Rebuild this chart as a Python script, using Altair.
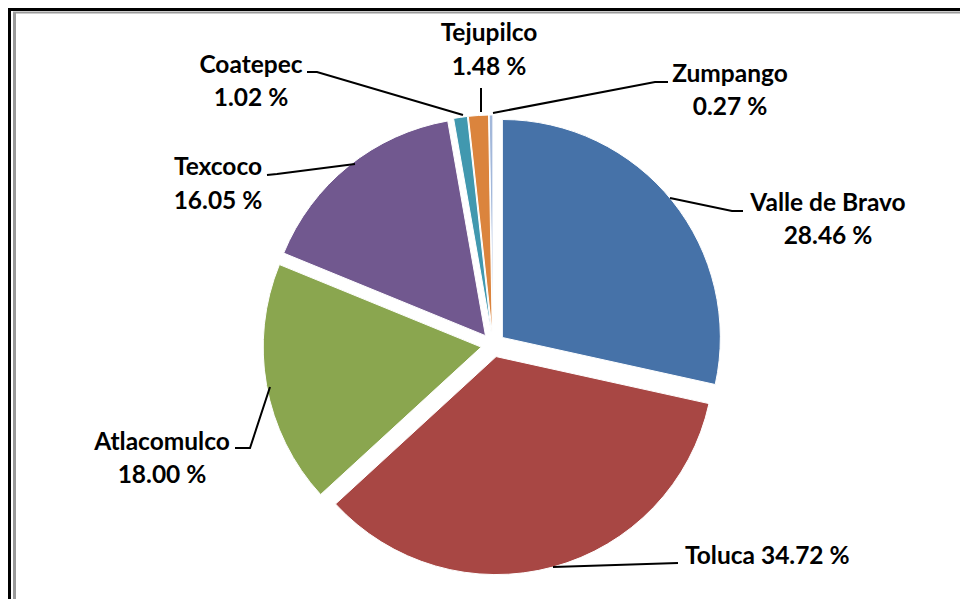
import altair as alt
import pandas as pd

# ---- data ----
municipios = ["Valle de Bravo", "Toluca", "Atlacomulco", "Texcoco", "Coatepec", "Tejupilco", "Zumpango"]
porcentajes = [28.46, 34.72, 18.00, 16.05, 1.02, 1.48, 0.27]
colores = ["#4672A8", "#A84744", "#8AA64F", "#71588F", "#4198AF", "#DB843D", "#A3B8DA"]
titulo = "(Hectáreas)"

# ---- layout (chart pixel coordinates) ----
W, H = 952, 591
CX, CY, R, EXPLODE = 485, 337, 218, 12
FONT = "Lato"
FS = 24.5

# label positions: (x, y_name, y_pct); Toluca uses one line
label_pos = {
    "Valle de Bravo": (820, 196, 229),
    "Toluca": (677, 549, None),
    "Atlacomulco": (154, 435, 468),
    "Texcoco": (210, 160, 194),
    "Coatepec": (243, 58, 91),
    "Tejupilco": (481, 26, 60),
    "Zumpango": (722, 67, 100),
}
# leader lines
leaders = {
    "Valle de Bravo": [(662, 190), (724, 203), (735, 203)],
    "Toluca": [(545, 559), (670, 555)],
    "Atlacomulco": [(262, 379), (242, 440), (227, 440)],
    "Texcoco": [(347, 156), (269, 166), (259, 167)],
    "Coatepec": [(455, 107), (309, 64), (299, 64)],
    "Tejupilco": [(473, 104), (473, 80)],
    "Zumpango": [(485, 105), (647, 74), (660, 74)],
}

df = pd.DataFrame({"municipio": municipios, "pct": porcentajes, "idx": list(range(len(municipios)))})

pie = (
    alt.Chart(df)
    .transform_window(cum="sum(pct)", sort=[alt.SortField("idx")], frame=[None, 0])
    .transform_joinaggregate(total="sum(pct)")
    .transform_calculate(
        t0="2*PI*(datum.cum-datum.pct)/datum.total",
        t1="2*PI*datum.cum/datum.total",
    )
    .transform_calculate(mid="(datum.t0+datum.t1)/2")
    .transform_calculate(
        cx=f"{CX}+{EXPLODE}*sin(datum.mid)",
        cy=f"{CY}-{EXPLODE}*cos(datum.mid)",
    )
    .mark_arc(radius=R, stroke="white", strokeWidth=1)
    .encode(
        theta=alt.Theta("t0:Q", scale=None),
        theta2="t1:Q",
        x=alt.X("cx:Q", scale=None),
        y=alt.Y("cy:Q", scale=None),
        color=alt.Color("municipio:N", scale=alt.Scale(domain=municipios, range=colores), legend=None),
    )
)

rows = []
for m, p in zip(municipios, porcentajes):
    x, y1, y2 = label_pos[m]
    if y2 is None:
        rows.append({"t": f"{m} {p:.2f} %", "x": x, "y": y1, "a": "left"})
    else:
        rows.append({"t": m, "x": x, "y": y1, "a": "center"})
        rows.append({"t": f"{p:.2f} %", "x": x, "y": y2, "a": "center"})
lab = pd.DataFrame(rows)

def text_layer(align):
    return (
        alt.Chart(lab[lab["a"] == align])
        .mark_text(font=FONT, fontSize=FS, fontWeight="bold", color="black", align=align, baseline="middle")
        .encode(x=alt.X("x:Q", scale=None), y=alt.Y("y:Q", scale=None), text="t:N")
    )

lrows = []
for m, pts in leaders.items():
    for k, (x, y) in enumerate(pts):
        lrows.append({"municipio": m, "k": k, "x": x, "y": y})
ldf = pd.DataFrame(lrows)
lines = (
    alt.Chart(ldf)
    .mark_line(color="black", strokeWidth=2)
    .encode(x=alt.X("x:Q", scale=None), y=alt.Y("y:Q", scale=None), detail="municipio:N", order="k:Q")
)

title = (
    alt.Chart(pd.DataFrame({"t": [titulo]}))
    .mark_text(font="Liberation Sans", fontSize=20, color="black", align="center", baseline="bottom")
    .encode(x=alt.value(482), y=alt.value(-1), text="t:N")
)

frame = [
    alt.Chart(pd.DataFrame({"a": [0]})).mark_rule(color="black", strokeWidth=3)
    .encode(x=alt.value(1.5), x2=alt.value(1.5), y=alt.value(0), y2=alt.value(H)),
    alt.Chart(pd.DataFrame({"a": [0]})).mark_rule(color="black", strokeWidth=3)
    .encode(x=alt.value(0), x2=alt.value(W), y=alt.value(1.5), y2=alt.value(1.5)),
    alt.Chart(pd.DataFrame({"a": [0]})).mark_rule(color="#9a9a9a", strokeWidth=3)
    .encode(x=alt.value(6.5), x2=alt.value(6.5), y=alt.value(4), y2=alt.value(H)),
    alt.Chart(pd.DataFrame({"a": [0]})).mark_rule(color="#9a9a9a", strokeWidth=2)
    .encode(x=alt.value(5), x2=alt.value(W), y=alt.value(4.5), y2=alt.value(4.5)),
]

chart = (
    alt.layer(pie, lines, text_layer("center"), text_layer("left"), title, *frame)
    .properties(width=W, height=H, padding=0, autosize=alt.AutoSizeParams(type="none"), background="white")
    .configure_view(stroke=None)
)

chart.save("out.html", embed_options={"renderer": "svg", "actions": False})
